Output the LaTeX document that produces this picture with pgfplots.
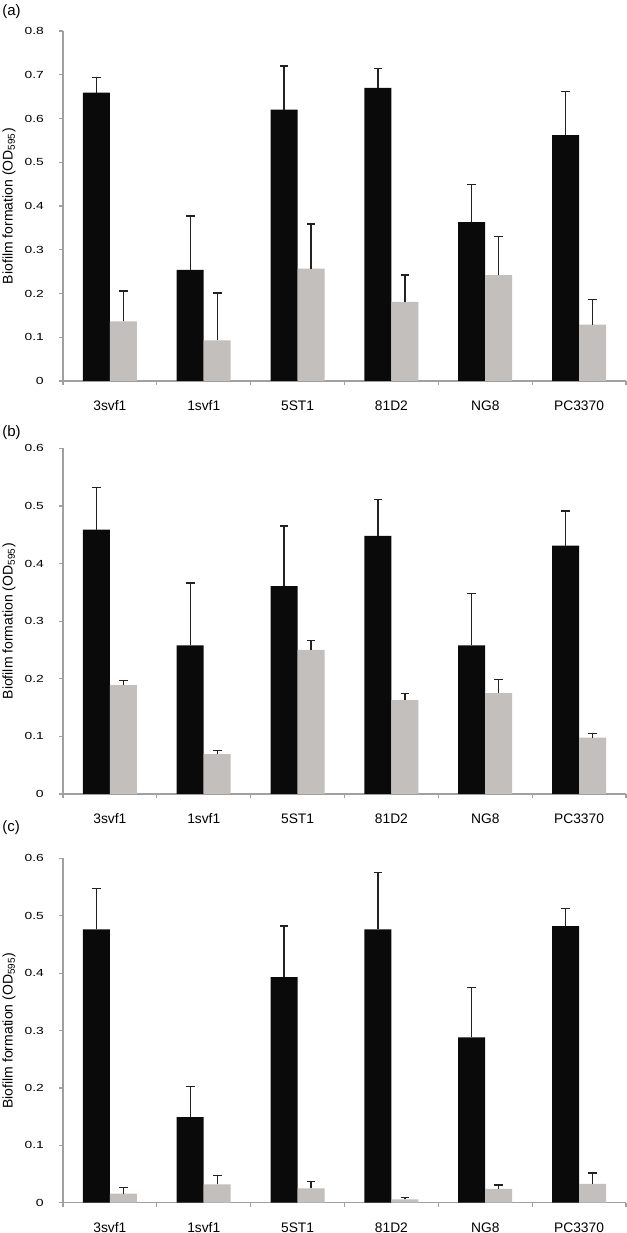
\documentclass[border=0pt]{standalone}
\usepackage{fontspec}
\setmainfont{Liberation Sans}
\usepackage{graphicx}
\usepackage{pgfplots}
\usepackage{pgfplotstable}
\pgfplotsset{compat=1.18}

\definecolor{barblack}{HTML}{0A0A0B}
\definecolor{bargray}{HTML}{C2BFBD}
\definecolor{axisgray}{HTML}{A0A0A0}
\definecolor{errcol}{HTML}{222222}

% y tick labels are wide and flat in the reference
\newcommand\yt[1]{\resizebox{9.6pt}{3.6pt}{\fontsize{6.9}{8}\selectfont #1}}
\newcommand\ytz{\resizebox{3.9pt}{3.6pt}{\fontsize{6.9}{8}\selectfont 0}}

% cat, black bar, black error, gray bar, gray error
\pgfplotstableread{
cat b be g ge
0 0.659 0.035 0.136 0.070
1 0.254 0.123 0.093 0.108
2 0.620 0.100 0.257 0.102
3 0.670 0.045 0.181 0.061
4 0.363 0.086 0.242 0.089
5 0.562 0.099 0.129 0.057
}\dataA
\pgfplotstableread{
cat b be g ge
0 0.459 0.073 0.189 0.008
1 0.258 0.108 0.069 0.007
2 0.361 0.104 0.250 0.017
3 0.448 0.063 0.163 0.011
4 0.258 0.090 0.175 0.024
5 0.431 0.060 0.098 0.007
}\dataB
\pgfplotstableread{
cat b be g ge
0 0.476 0.072 0.016 0.010
1 0.149 0.054 0.032 0.016
2 0.393 0.089 0.025 0.012
3 0.476 0.099 0.006 0.003
4 0.288 0.087 0.024 0.007
5 0.482 0.030 0.033 0.019
}\dataC

\pgfplotsset{
  panel/.style={
    scale only axis, width=281.5pt, anchor=south west,
    ybar=0pt, bar width=13.5pt,
    xmin=-0.5, xmax=5.5, ymin=0,
    axis x line*=bottom, axis y line*=left,
    axis line style={axisgray, line width=0.6pt},
    xtick={0,1,2,3,4,5},
    xticklabels={3svf1,1svf1,5ST1,81D2,NG8,PC3370},
    minor xtick={-0.5,0.5,1.5,2.5,3.5,4.5,5.5},
    major x tick style={draw=none},
    minor x tick style={axisgray, line width=0.6pt},
    y tick style={axisgray, line width=0.6pt},
    tick align=outside,
    major tick length=2pt, minor tick length=2pt,
    xticklabel style={font=\fontsize{6.9}{8}\selectfont, anchor=center, inner sep=0pt, yshift=-10.5pt},
    yticklabel style={anchor=east, inner sep=0pt, xshift=-7.4pt},
    every axis y label/.style={at={(axis description cs:-0.0959,0.5)}, rotate=90, anchor=center,
      font=\fontsize{7}{8}\selectfont},
    ylabel={Biofilm formation (OD\textsubscript{595})},
  },
  errstyle/.style={
    error bars/.cd, y dir=plus, y explicit,
    error bar style={errcol, line width=0.65pt},
    error mark options={errcol, line width=0.65pt, mark size=2.2pt, rotate=90}},
  blackbar/.style={fill=barblack, draw=none, errstyle},
  graybar/.style={fill=bargray, draw=none, errstyle},
}

\begin{document}
\begin{tikzpicture}
\path[use as bounding box] (0pt,0pt) rectangle (313.5pt,616.5pt);

\begin{axis}[panel, at={(31.5pt,426pt)}, height=175pt, ymax=0.8,
  ytick={0,0.1,0.2,0.3,0.4,0.5,0.6,0.7,0.8},
  yticklabels={\ytz,\yt{0.1},\yt{0.2},\yt{0.3},\yt{0.4},\yt{0.5},\yt{0.6},\yt{0.7},\yt{0.8}}]
\addplot[blackbar] table[x=cat, y=b, y error=be] {\dataA};
\addplot[graybar] table[x=cat, y=g, y error=ge] {\dataA};
\end{axis}

\begin{axis}[panel, at={(31.5pt,219.5pt)}, height=172.85pt, ymax=0.6,
  ytick={0,0.1,0.2,0.3,0.4,0.5,0.6},
  yticklabels={\ytz,\yt{0.1},\yt{0.2},\yt{0.3},\yt{0.4},\yt{0.5},\yt{0.6}}]
\addplot[blackbar] table[x=cat, y=b, y error=be] {\dataB};
\addplot[graybar] table[x=cat, y=g, y error=ge] {\dataB};
\end{axis}

\begin{axis}[panel, at={(31.5pt,15.15pt)}, height=172.2pt, ymax=0.6,
  ytick={0,0.1,0.2,0.3,0.4,0.5,0.6},
  yticklabels={\ytz,\yt{0.1},\yt{0.2},\yt{0.3},\yt{0.4},\yt{0.5},\yt{0.6}}]
\addplot[blackbar] table[x=cat, y=b, y error=be] {\dataC};
\addplot[graybar] table[x=cat, y=g, y error=ge] {\dataC};
\end{axis}

\node[anchor=west, inner sep=0pt, font=\fontsize{7.5}{9}\selectfont] at (1pt,610.5pt) {(a)};
\node[anchor=west, inner sep=0pt, font=\fontsize{7.5}{9}\selectfont] at (1pt,400pt) {(b)};
\node[anchor=west, inner sep=0pt, font=\fontsize{7.5}{9}\selectfont] at (1pt,202.5pt) {(c)};
\end{tikzpicture}
\end{document}
